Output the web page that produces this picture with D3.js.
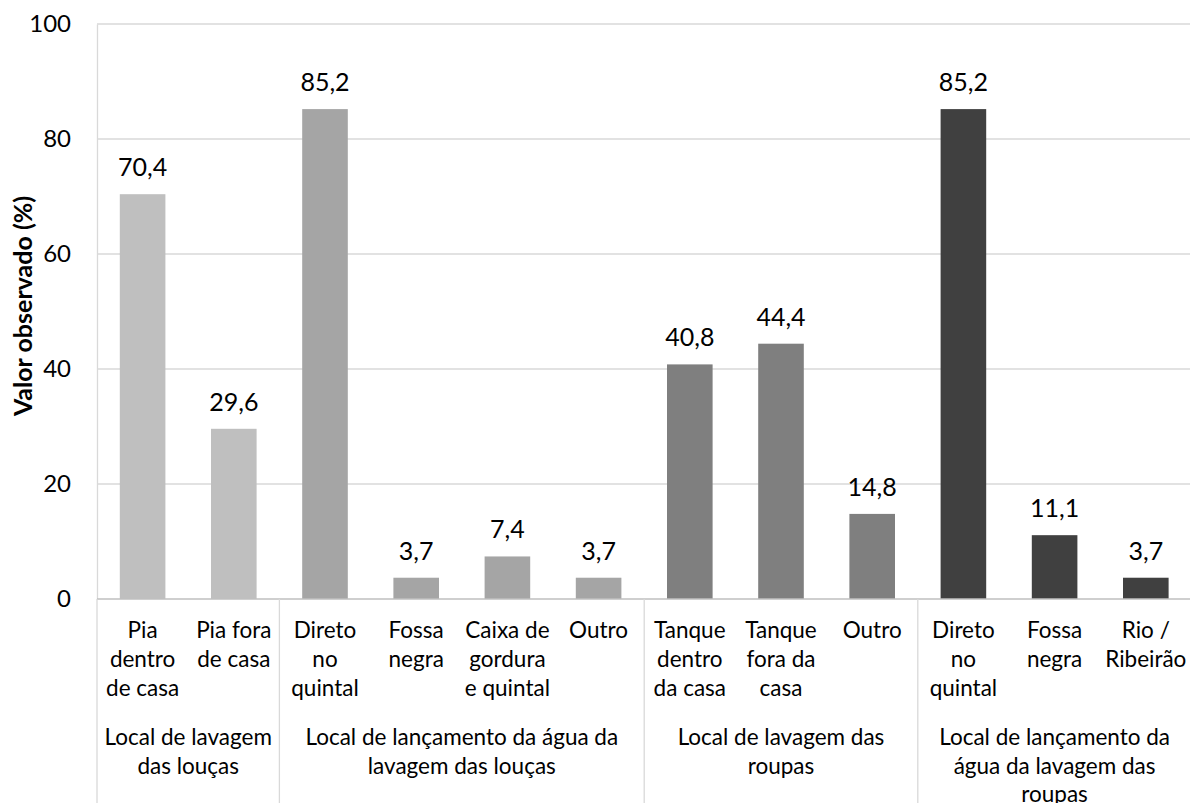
<!DOCTYPE html>
<html><head><meta charset="utf-8">
<script src="https://cdn.jsdelivr.net/npm/d3@7"></script>
<style>body{margin:0;background:#fff}svg{display:block}</style>
</head><body>
<svg id="c" width="1190" height="803"></svg>
<script>
const categoryLines = [
  ["Pia","dentro","de casa"],["Pia fora","de casa"],
  ["Direto","no","quintal"],["Fossa","negra"],["Caixa de","gordura","e quintal"],["Outro"],
  ["Tanque","dentro","da casa"],["Tanque","fora da","casa"],["Outro"],
  ["Direto","no","quintal"],["Fossa","negra"],["Rio /","Ribeirão"]
];
const values = [70.4, 29.6, 85.2, 3.7, 7.4, 3.7, 40.8, 44.4, 14.8, 85.2, 11.1, 3.7];
const groupOf = [0,0,1,1,1,1,2,2,2,3,3,3];
const groupLines = [
  ["Local de lavagem","das louças"],
  ["Local de lançamento da água da","lavagem das louças"],
  ["Local de lavagem das","roupas"],
  ["Local de lançamento da","água da lavagem das","roupas"]
];
const groupColors = ["#bfbfbf","#a5a5a5","#7f7f7f","#404040"];
const yTicks = [0,20,40,60,80,100];

const font = "Lato, 'Liberation Sans', sans-serif";
const svg = d3.select("#c");
const x0 = 97, step = 91.2, n = values.length;
const x = d3.scaleBand().domain(d3.range(n)).range([x0, x0 + step*n]).paddingInner(0.5).paddingOuter(0.25);
const y = d3.scaleLinear().domain([0,100]).range([599, 24]);

// gridlines
svg.append("g").selectAll("line").data(yTicks.filter(d=>d>0)).join("line")
  .attr("x1", x0).attr("x2", x0 + step*n).attr("y1", d=>y(d)).attr("y2", d=>y(d))
  .attr("stroke", "#d9d9d9").attr("stroke-width", 1.3);

// y axis
const yAxis = svg.append("g").attr("transform", `translate(${x0},0)`)
  .call(d3.axisLeft(y).tickValues(yTicks).tickSize(0).tickPadding(26));
yAxis.select(".domain").attr("stroke", "#d9d9d9").attr("stroke-width", 1.3);
yAxis.selectAll("text").attr("font-family", font).attr("font-size", 24).attr("fill", "#000");

// bars
svg.append("g").selectAll("rect").data(values).join("rect")
  .attr("x", (d,i)=>x(i)).attr("width", x.bandwidth())
  .attr("y", d=>y(d)).attr("height", d=>y(0)-y(d))
  .attr("fill", (d,i)=>groupColors[groupOf[i]]);

// value labels
svg.append("g").selectAll("text").data(values).join("text")
  .attr("x", (d,i)=>x(i)+x.bandwidth()/2).attr("y", d=>y(d)-18)
  .attr("text-anchor","middle").attr("font-family", font).attr("font-size", 25).attr("fill","#000")
  .text(d=>d.toFixed(1).replace(".", ","));

// x axis baseline
svg.append("line").attr("x1", x0).attr("x2", x0+step*n).attr("y1", y(0)).attr("y2", y(0))
  .attr("stroke", "#bfbfbf").attr("stroke-width", 1.5);

// group separators
const bounds = [0];
groupOf.forEach((g,i)=>{ if (i>0 && g!==groupOf[i-1]) bounds.push(i); });
bounds.push(n);
svg.append("g").selectAll("line").data(bounds).join("line")
  .attr("x1", d=>x0+d*step).attr("x2", d=>x0+d*step).attr("y1", y(0)).attr("y2", 803)
  .attr("stroke", "#d9d9d9").attr("stroke-width", 1.3);

// category labels
const cl = svg.append("g").selectAll("text").data(categoryLines).join("text")
  .attr("text-anchor","middle").attr("font-family", font).attr("font-size", 22.5).attr("fill","#000");
cl.each(function(lines,i){
  d3.select(this).selectAll("tspan").data(lines).join("tspan")
    .attr("x", x(i)+x.bandwidth()/2).attr("y", (d,j)=>638 + j*29).text(d=>d);
});

// group labels
const groups = groupLines.map((lines,g)=>({lines, a: bounds[g], b: bounds[g+1]}));
const gl = svg.append("g").selectAll("text").data(groups).join("text")
  .attr("text-anchor","middle").attr("font-family", font).attr("font-size", 22.5).attr("fill","#000");
gl.each(function(d){
  d3.select(this).selectAll("tspan").data(d.lines).join("tspan")
    .attr("x", x0 + (d.a+d.b)/2*step).attr("y", (t,j)=>745 + j*28.5).text(t=>t);
});

// y title
svg.append("text").attr("transform", "translate(32,306) rotate(-90)")
  .attr("text-anchor","middle").attr("font-family", font).attr("font-size", 25)
  .attr("font-weight","bold").attr("fill","#000").text("Valor observado (%)");
</script>
</body></html>
